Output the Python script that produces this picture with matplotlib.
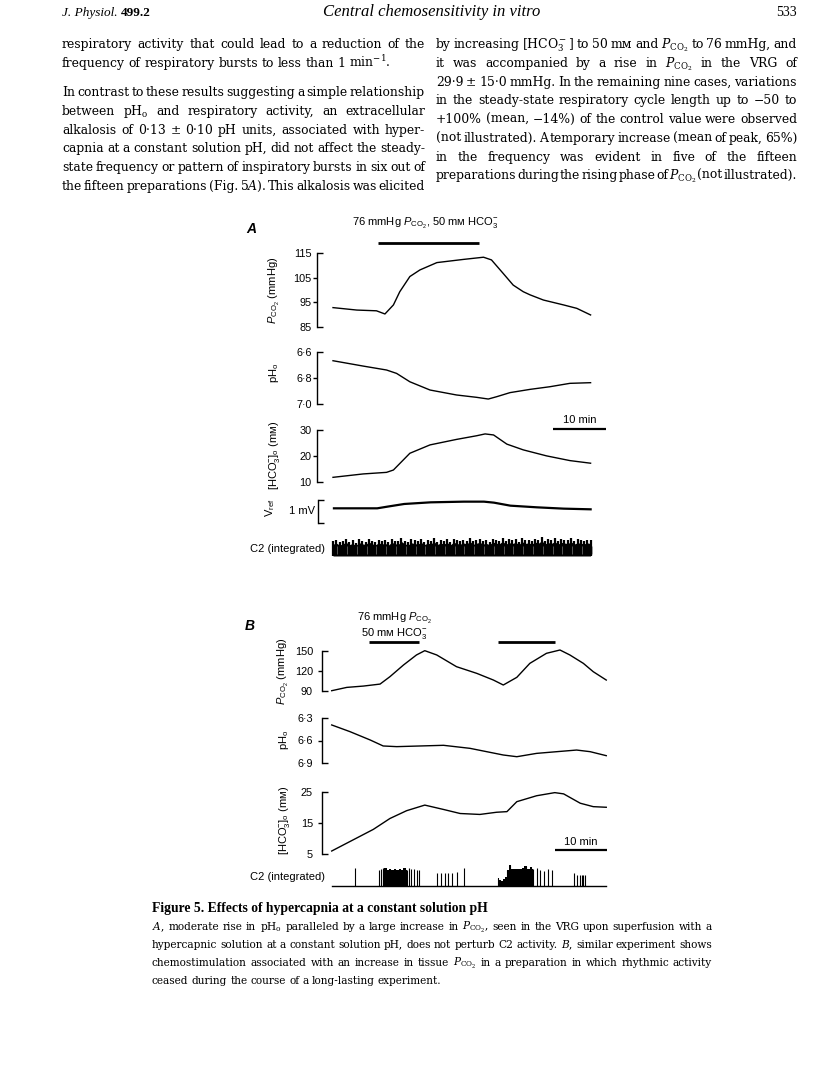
import numpy as np
import matplotlib
matplotlib.use('Agg')
import matplotlib.pyplot as plt
import matplotlib.transforms as mtransforms

plt.rcParams['mathtext.fontset'] = 'custom'
plt.rcParams['mathtext.rm'] = 'Liberation Sans'
plt.rcParams['mathtext.it'] = 'Liberation Sans:italic'
plt.rcParams['mathtext.bf'] = 'Liberation Sans:bold'
plt.rcParams['font.family'] = ['Liberation Sans', 'DejaVu Sans']

# ---- data, panel A (time in min) ----
tA_pco2 = [0, 4.5, 8.2, 9.8, 11.4, 12.6, 14.5, 16.4, 19.6, 24.6, 28.4, 29.9,
           32.1, 34.0, 35.9, 37.2, 39.7, 43.5, 46.0, 48.6]
pco2_A = [92.8, 91.8, 91.5, 90.2, 93.9, 99.3, 105.5, 108.2, 111.2, 112.5, 113.4, 112.3,
          106.8, 102.0, 99.3, 98.0, 95.9, 93.9, 92.5, 89.8]
tA_ph = [0, 5.7, 10.1, 12.0, 14.5, 18.3, 23.3, 27.1, 29.3, 30.9, 33.4, 37.2, 40.9, 44.7, 48.6]
ph_A = [6.669, 6.71, 6.74, 6.766, 6.83, 6.893, 6.931, 6.949, 6.962, 6.944, 6.913,
        6.888, 6.868, 6.842, 6.837]
tA_hco3 = [0, 5.7, 10.1, 11.4, 14.5, 18.3, 23.3, 27.1, 28.7, 30.3, 32.8, 35.9, 40.3, 44.7, 48.6]
hco3_A = [11.9, 13.2, 13.8, 14.7, 21.1, 24.3, 26.4, 27.8, 28.5, 28.1, 24.6, 22.4, 20.1, 18.3, 17.3]
tA_vref = [0, 8.2, 10.1, 13.3, 18.3, 24.6, 28.4, 30.3, 33.4, 38.4, 43.5, 48.6]
vref_A = [0.643, 0.643, 0.714, 0.829, 0.9, 0.929, 0.929, 0.886, 0.757, 0.686, 0.629, 0.6]
c2A_h = [0.78, 0.85, 0.72, 0.8, 0.9, 0.75, 0.82, 0.7, 0.88, 0.8,
         0.76, 0.92, 0.8, 0.74, 0.86, 0.79, 0.83, 0.72, 0.9, 0.81,
         0.77, 0.95, 0.8, 0.73, 0.87, 0.82, 0.78, 0.9, 0.75, 0.84,
         0.8, 0.93, 0.76, 0.85, 0.79, 0.88, 0.74, 0.91, 0.82, 0.78,
         0.86, 0.8, 0.95, 0.77, 0.84, 0.9, 0.79, 0.83, 0.75, 0.92,
         0.85, 0.8, 0.97, 0.78, 0.88, 0.82, 0.9, 0.76, 0.94, 0.83,
         0.86, 0.79, 0.92, 0.84, 1.0, 0.8, 0.88, 0.83, 0.95, 0.78,
         0.9, 0.85, 0.82, 0.93, 0.79, 0.87, 0.84, 0.8, 0.86, 0.82]
stimA = [8.4, 27.6]

# ---- data, panel B ----
tB_pco2 = [0, 2.9, 6.1, 9.3, 11.2, 13.8, 16.3, 17.9, 20.2, 24.0, 27.9, 31.1, 33.0,
           35.6, 38.1, 41.3, 43.9, 45.8, 48.4, 50.3, 52.8]
pco2_B = [90, 95, 97, 100, 111.2, 128.8, 144, 150.5, 144, 126.3, 116.2, 106.1, 98.6,
          110.2, 131.3, 146.5, 151.5, 144, 131.3, 118.7, 106.1]
tB_ph = [0, 3.5, 7.4, 9.9, 12.5, 21.5, 26.6, 33.0, 35.6, 39.4, 43.3, 47.1, 49.7, 52.8]
ph_B = [6.39, 6.48, 6.593, 6.674, 6.683, 6.665, 6.706, 6.796, 6.819, 6.774, 6.751,
        6.729, 6.751, 6.805]
tB_hco3 = [0, 8.0, 11.2, 14.4, 17.9, 21.5, 24.7, 28.5, 31.7, 33.7, 35.6, 39.4, 42.9,
           44.6, 47.8, 50.3, 52.8]
hco3_B = [5.96, 12.9, 16.4, 18.9, 20.7, 19.3, 18.0, 17.7, 18.4, 18.6, 21.8, 23.7, 24.7,
          24.3, 21.3, 20.2, 20.0]
spikes_B_t = [4.5, 9.0, 9.4, 9.8, 14.8, 15.3, 15.8, 16.4, 16.7, 20.2, 21.1, 21.8, 22.4,
              23.1, 24.0, 25.4, 39.4, 40.0, 40.8, 41.6, 42.3, 46.5, 47.1, 47.8, 48.1,
              48.4, 48.7]
spikes_B_h = [1.0, 0.9, 0.95, 1.0, 1.0, 0.95, 0.95, 0.9, 0.9, 0.75, 0.7, 0.7, 0.75,
              0.75, 0.8, 1.0, 1.0, 0.9, 0.85, 0.95, 0.9, 0.7, 0.6, 0.6, 0.6, 0.6, 0.6]
burst1_t = [9.9, 10.3, 10.8, 11.2, 11.7, 12.2, 12.6, 13.1, 13.5, 14.0, 14.4]
burst1_h = [0.95, 1.0, 0.9, 0.92, 0.88, 0.95, 0.9, 0.93, 0.87, 0.98, 0.9]
burst2_t = [31.9, 32.3, 32.7, 33.1, 33.5, 33.8, 34.3, 34.8, 35.3, 35.8, 36.3, 36.8,
            37.3, 37.8, 38.3, 38.8]
burst2_h = [0.45, 0.35, 0.3, 0.4, 0.5, 0.9, 1.15, 0.95, 0.92, 0.95, 0.97, 1.0, 1.1,
            0.95, 1.05, 0.95]
stimB = [[7.2, 16.8], [32.0, 42.9]]
scale_min = 10

# tick labels as printed
ticksA = {'pco2': ([85, 95, 105, 115], ['85', '95', '105', '115']),
          'ph': ([6.6, 6.8, 7.0], ['6·6', '6·8', '7·0']),
          'hco3': ([10, 20, 30], ['10', '20', '30'])}
ticksB = {'pco2': ([90, 120, 150], ['90', '120', '150']),
          'ph': ([6.3, 6.6, 6.9], ['6·3', '6·6', '6·9']),
          'hco3': ([5, 15, 25], ['5', '15', '25'])}

# ---- page text ----
left_col = ["respiratory activity that could lead to a reduction of the",
            "frequency of respiratory bursts to less than 1 min$^{-1}$.",
            "In contrast to these results suggesting a simple relationship",
            "between pH$_\\mathrm{o}$ and respiratory activity, an extracellular",
            "alkalosis of 0·13 ± 0·10 pH units, associated with hyper-",
            "capnia at a constant solution pH, did not affect the steady-",
            "state frequency or pattern of inspiratory bursts in six out of",
            "the fifteen preparations (Fig. 5$A$). This alkalosis was elicited"]
right_col = ["by increasing [HCO$_3^-$] to 50 mᴍ and $P_{\\mathrm{CO_2}}$ to 76 mmHg, and",
             "it was accompanied by a rise in $P_{\\mathrm{CO_2}}$ in the VRG of",
             "29·9 ± 15·0 mmHg. In the remaining nine cases, variations",
             "in the steady-state respiratory cycle length up to −50 to",
             "+100% (mean, −14%) of the control value were observed",
             "(not illustrated). A temporary increase (mean of peak, 65%)",
             "in the frequency was evident in five of the fifteen",
             "preparations during the rising phase of $P_{\\mathrm{CO_2}}$ (not illustrated)."]
caption = ["$A$, moderate rise in pH$_\\mathrm{o}$ paralleled by a large increase in $P_{\\mathrm{CO_2}}$, seen in the VRG upon superfusion with a",
           "hypercapnic solution at a constant solution pH, does not perturb C2 activity. $B$, similar experiment shows",
           "chemostimulation associated with an increase in tissue $P_{\\mathrm{CO_2}}$ in a preparation in which rhythmic activity",
           "ceased during the course of a long-lasting experiment."]

W, H = 816, 1088
fig = plt.figure(figsize=(W / 100, H / 100), dpi=100)
fig.patch.set_facecolor('white')


def prect(x0, y0, x1, y1):
    return [x0 / W, 1 - y1 / H, (x1 - x0) / W, (y1 - y0) / H]


def ftext(x, y, s, **kw):
    return fig.text(x / W, 1 - y / H, s, **kw)


def trace_ax(x0, y0, x1, y1, xlim, ylim, ticks=None, pad=4.0):
    ax = fig.add_axes(prect(x0, y0, x1, y1))
    ax.set_xlim(xlim)
    ax.set_ylim(ylim)
    ax.patch.set_visible(False)
    for s in ['top', 'right', 'bottom']:
        ax.spines[s].set_visible(False)
    ax.set_xticks([])
    if ticks is None:
        ax.spines['left'].set_visible(False)
        ax.set_yticks([])
        return ax
    vals, labs = ticks
    ax.spines['left'].set_linewidth(1.0)
    ax.set_yticks([vals[0], vals[-1]])
    ax.set_yticklabels([labs[0], labs[-1]])
    ax.set_yticks(vals[1:-1], minor=True)
    ax.set_yticklabels(labs[1:-1], minor=True)
    ax.tick_params(axis='y', which='major', direction='in', length=4, width=1.0,
                   pad=pad, labelsize=7.8)
    ax.tick_params(axis='y', which='minor', direction='out', length=3, width=1.0,
                   pad=pad - 3, labelsize=7.8)
    return ax


lw = 1.0
xlimA = ((317 - 333) / 5.3, (606 - 333) / 5.3)
xlimB = ((321.7 - 331.7) / 5.2, (607 - 331.7) / 5.2)
hco3_lab = r'[HCO$_3^{-}$]$_\mathrm{o}$ (mᴍ)'
pco2_lab = r'$P_{\mathrm{CO_2}}$ (mmHg)'

# ---- panel A ----
ftext(246, 233, 'A', fontsize=10, style='italic', weight='bold')
ax = trace_ax(317, 253.3, 606, 326.7, xlimA, (85, 115), ticksA['pco2'], pad=3.8)
ax.plot(tA_pco2, pco2_A, color='k', lw=lw, clip_on=False)
tr = mtransforms.blended_transform_factory(ax.transData, ax.transAxes)
ax.plot(stimA, [1.136, 1.136], color='k', lw=2.0, transform=tr, clip_on=False,
        solid_capstyle='butt')
ax.text(np.mean(stimA) - 0.6, 1.30, r'76 mmHg $P_{\mathrm{CO_2}}$, 50 mᴍ HCO$_3^{-}$',
        transform=tr, ha='center', va='bottom', fontsize=8)
ftext(274, 290, pco2_lab, rotation=90, ha='center', va='center', fontsize=8)

ax = trace_ax(317, 351.7, 606, 404, xlimA, (7.0, 6.6), ticksA['ph'], pad=3.8)
ax.plot(tA_ph, ph_A, color='k', lw=lw, clip_on=False)
ftext(274, 373, r'pH$_\mathrm{o}$', rotation=90, ha='center', va='center', fontsize=8)

ax = trace_ax(317, 430, 606, 482.3, xlimA, (10, 30), ticksA['hco3'], pad=3.8)
ax.plot(tA_hco3, hco3_A, color='k', lw=lw, clip_on=False)
tr = mtransforms.blended_transform_factory(ax.transData, ax.transAxes)
x_end = xlimA[1]
ax.plot([x_end - scale_min, x_end], [1.025, 1.025], color='k', lw=1.6, transform=tr,
        clip_on=False, solid_capstyle='butt')
ax.text(x_end - scale_min / 2, 1.1, '%d min' % scale_min, transform=tr, ha='center',
        va='bottom', fontsize=8)
ftext(275, 455, hco3_lab, rotation=90, ha='center', va='center', fontsize=8)

ax = trace_ax(318, 500, 606, 523.3, xlimA, (0, 1))
ax.spines['left'].set_visible(True)
ax.spines['left'].set_linewidth(1.0)
ax.set_yticks([0, 1])
ax.set_yticklabels([])
ax.tick_params(axis='y', direction='in', length=4, width=1.0)
ax.plot(tA_vref, vref_A, color='k', lw=1.6)
ftext(302, 511, '1 mV', ha='center', va='center', fontsize=8)
ftext(270, 508, r'V$_\mathrm{ref}$', rotation=90, ha='center', va='center', fontsize=8)

ax = trace_ax(317, 537, 606, 556, xlimA, (0, 1))
tc2 = np.linspace(0, tA_pco2[-1], len(c2A_h))
ax.fill_between(tc2, 0, np.array(c2A_h) * 0.8, color='k', lw=0)
ax.vlines(tc2, 0, c2A_h, color='k', lw=1.6)
ax.vlines(tc2[1::3] + 0.2, 0.1, 0.55, color='#777777', lw=0.5)
ftext(325, 549, 'C2 (integrated)', ha='right', va='center', fontsize=8)

# ---- panel B ----
ftext(245, 630, 'B', fontsize=10, style='italic', weight='bold')
ax = trace_ax(321.7, 651, 607, 690.7, xlimB, (90, 150), ticksB['pco2'], pad=6.3)
ax.plot(tB_pco2, pco2_B, color='k', lw=lw, clip_on=False)
tr = mtransforms.blended_transform_factory(ax.transData, ax.transAxes)
for on, off in stimB:
    ax.plot([on, off], [1.234, 1.234], color='k', lw=2.0, transform=tr, clip_on=False,
            solid_capstyle='butt')
ax.text(np.mean(stimB[0]), 1.83, r'76 mmHg $P_{\mathrm{CO_2}}$', transform=tr,
        ha='center', va='center', fontsize=8)
ax.text(np.mean(stimB[0]), 1.45, r'50 mᴍ HCO$_3^{-}$', transform=tr,
        ha='center', va='center', fontsize=8)
ftext(283, 671, pco2_lab, rotation=90, ha='center', va='center', fontsize=8)

ax = trace_ax(321.7, 718.3, 607, 762.7, xlimB, (6.9, 6.3), ticksB['ph'], pad=6.3)
ax.plot(tB_ph, ph_B, color='k', lw=lw, clip_on=False)
ftext(284, 740, r'pH$_\mathrm{o}$', rotation=90, ha='center', va='center', fontsize=8)

ax = trace_ax(321.7, 791.7, 607, 854, xlimB, (5, 25), ticksB['hco3'], pad=6.3)
ax.plot(tB_hco3, hco3_B, color='k', lw=lw, clip_on=False)
tr = mtransforms.blended_transform_factory(ax.transData, ax.transAxes)
x_end = tB_hco3[-1] + 0.1
ax.plot([x_end - scale_min, x_end], [0.064, 0.064], color='k', lw=1.6, transform=tr,
        clip_on=False, solid_capstyle='butt')
ax.text(x_end - scale_min / 2, 0.2, '%d min' % scale_min, transform=tr, ha='center',
        va='center', fontsize=8)
ftext(284, 820, hco3_lab, rotation=90, ha='center', va='center', fontsize=8)

ax = trace_ax(321.7, 868, 607, 886, xlimB, (0, 1))
ax.plot([tB_pco2[0], tB_pco2[-1]], [0, 0], color='k', lw=1.0)
ax.vlines(spikes_B_t, 0, spikes_B_h, color='k', lw=0.8)
for bt, bh in [(burst1_t, burst1_h), (burst2_t, burst2_h)]:
    ax.fill_between(bt, 0, bh, step='mid', color='k', lw=0)
    ax.vlines(bt, 0, bh, color='k', lw=0.8)
for art in ax.get_children():
    art.set_clip_on(False)
ftext(325, 877, 'C2 (integrated)', ha='right', va='center', fontsize=8)

# ---- page text (justified) ----
serif = ['DejaVu Serif']
lines = []


def text_line(x0, x1, y, s, size, justify=True, **kw):
    objs = [ftext(x0, y, w, fontsize=size, family=serif, math_fontfamily='dejavuserif',
                  va='baseline', ha='left', **kw) for w in s.split(' ')]
    lines.append((x0, x1, objs, justify, size))


times = ['Liberation Serif', 'DejaVu Serif']
ftext(62, 16, 'J. Physiol.', fontsize=9.5, family=times, style='italic', va='baseline')
ftext(121, 16, '499.2', fontsize=9.5, family=times, weight='bold', va='baseline')
ftext(432, 16, 'Central chemosensitivity in vitro', fontsize=12, family=times,
      style='italic', ha='center', va='baseline')
ftext(797, 16, '533', fontsize=10, family=times, ha='right', va='baseline')

left_y = [48, 67, 96, 115, 134, 152, 171, 190]
right_y = [48, 67, 86, 104, 123, 142, 161, 179]
for i, (s, y) in enumerate(zip(left_col, left_y)):
    text_line(62, 425, y, s, 8.9, justify=(i != 1))
for s, y in zip(right_col, right_y):
    text_line(436, 797, y, s, 8.9)

ftext(152, 912, 'Figure 5. Effects of hypercapnia at a constant solution pH', fontsize=9.8,
      family=times, weight='bold', va='baseline')
cap_y = [930, 948, 966, 984]
for i, (s, y) in enumerate(zip(caption, cap_y)):
    text_line(152, 712, y, s, 7.6, justify=(i != len(caption) - 1))

fig.canvas.draw()
rend = fig.canvas.get_renderer()
for x0, x1, objs, justify, size in lines:
    widths = [o.get_window_extent(rend).width for o in objs]
    if justify and len(objs) > 1:
        gap = (x1 - x0 - sum(widths)) / (len(objs) - 1)
    else:
        gap = size * 100 / 72 * 0.3
    x = x0
    for o, w in zip(objs, widths):
        o.set_x(x / W)
        x += w + gap

fig.savefig('out.png', dpi=100, facecolor='white')
